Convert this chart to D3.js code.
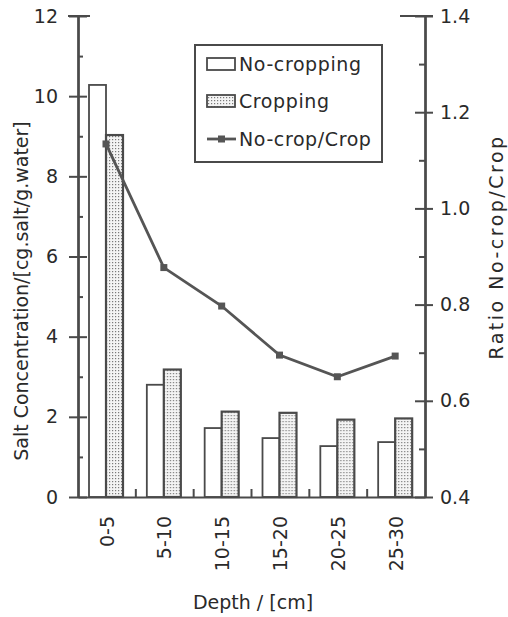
<!DOCTYPE html>
<html>
<head>
<meta charset="utf-8">
<script src="https://cdn.jsdelivr.net/npm/d3@7"></script>
<style>
  body { margin: 0; background: #fff; }
  svg text { font-family: "DejaVu Sans", sans-serif; fill: #2a2a2a; }
</style>
</head>
<body>
<div id="chart-area"></div>
<script>
// depth layers and measured values
var depths = ["0-5", "5-10", "10-15", "15-20", "20-25", "25-30"];
var noCropping = [10.28, 2.8, 1.72, 1.47, 1.27, 1.37];
var cropping = [9.03, 3.18, 2.13, 2.1, 1.93, 1.96];
var ratio = [1.134, 0.877, 0.797, 0.695, 0.65, 0.693];
var seriesNames = ["No-cropping", "Cropping", "No-crop/Crop"];
var leftTicks = [0, 2, 4, 6, 8, 10, 12];
var leftMinor = [1, 3, 5, 7, 9, 11];
var rightTicks = [0.4, 0.6, 0.8, 1.0, 1.2, 1.4];
var rightMinor = [0.5, 0.7, 0.9, 1.1, 1.3];

var width = 508, height = 617;
var ink = "#4a4a4a";
var fontSize = "19px";

var svg = d3.select("#chart-area").append("svg")
    .attr("width", width).attr("height", height);

var defs = svg.append("defs");
var pat = defs.append("pattern").attr("id", "dots")
    .attr("patternUnits", "userSpaceOnUse").attr("width", 3).attr("height", 3);
pat.append("rect").attr("width", 3).attr("height", 3).attr("fill", "#f4f4f4");
pat.append("rect").attr("x", 1).attr("y", 1).attr("width", 1.2).attr("height", 1.2).attr("fill", "#7a7a7a");

var x = d3.scaleBand().domain(depths).range([78, 425]).paddingInner(0).paddingOuter(0);
var xSub = d3.scaleBand().domain(["nocrop", "crop"]).range([11, 45]);
var yL = d3.scaleLinear().domain([0, 12]).range([497, 16]);
var yR = d3.scaleLinear().domain([0.4, 1.4]).range([497, 16]);

// bars
var groups = svg.append("g").selectAll("g").data(depths).enter().append("g")
    .attr("transform", (d) => "translate(" + x(d) + ",0)");

groups.append("rect")
    .attr("x", xSub("nocrop")).attr("width", xSub.bandwidth())
    .attr("y", (d, i) => yL(noCropping[i]))
    .attr("height", (d, i) => yL(0) - yL(noCropping[i]))
    .attr("fill", "#fff").attr("stroke", ink).attr("stroke-width", 1.8);

groups.append("rect")
    .attr("x", xSub("crop")).attr("width", xSub.bandwidth())
    .attr("y", (d, i) => yL(cropping[i]))
    .attr("height", (d, i) => yL(0) - yL(cropping[i]))
    .attr("fill", "url(#dots)").attr("stroke", ink).attr("stroke-width", 2.2);

// ratio line
var lineX = (d) => x(d) + xSub("crop");
var line = d3.line().x((d, i) => lineX(depths[i])).y((d) => yR(d));
svg.append("path").datum(ratio).attr("d", line)
    .attr("fill", "none").attr("stroke", "#555").attr("stroke-width", 2.8);
svg.append("g").selectAll("rect").data(ratio).enter().append("rect")
    .attr("x", (d, i) => lineX(depths[i]) - 3.5).attr("y", (d) => yR(d) - 3.5)
    .attr("width", 7).attr("height", 7).attr("fill", "#555");

// left axis
var leftAxis = svg.append("g").attr("transform", "translate(78,0)");
leftAxis.call(d3.axisLeft(yL).tickValues(leftTicks).tickSize(9).tickPadding(11).tickSizeOuter(0));
leftAxis.append("g").call(d3.axisRight(yL).tickValues(leftTicks).tickSize(9).tickFormat("").tickSizeOuter(0));
leftAxis.append("g").call(d3.axisRight(yL).tickValues(leftMinor).tickSize(5).tickFormat("").tickSizeOuter(0));

// right axis
var rightAxis = svg.append("g").attr("transform", "translate(425,0)");
rightAxis.call(d3.axisRight(yR).tickValues(rightTicks).tickSize(8).tickPadding(7)
    .tickFormat(d3.format(".1f")).tickSizeOuter(0));
rightAxis.append("g").call(d3.axisLeft(yR).tickValues(rightTicks).tickSize(10).tickFormat("").tickSizeOuter(0));
rightAxis.append("g").call(d3.axisLeft(yR).tickValues(rightMinor).tickSize(6).tickFormat("").tickSizeOuter(0));

// bottom axis
var bottomAxis = svg.append("g").attr("transform", "translate(0,497)");
bottomAxis.call(d3.axisBottom(x).tickSize(0).tickPadding(19).tickSizeOuter(0));
bottomAxis.selectAll(".tick text")
    .attr("transform", "rotate(-90)").attr("text-anchor", "end")
    .attr("dy", "0.35em").attr("x", -19).attr("y", 0);
// small ticks at the band edges
bottomAxis.append("g").selectAll("line").data(depths.slice(1)).enter().append("line")
    .attr("x1", (d) => x(d)).attr("x2", (d) => x(d))
    .attr("y1", 0).attr("y2", -8);

svg.selectAll(".domain, .tick line, line").attr("stroke", ink).attr("stroke-width", 2);
svg.selectAll(".tick text").attr("font-size", fontSize).attr("font-family", "DejaVu Sans").attr("fill", "#2a2a2a");

// longer tick at the top of each axis
svg.append("line").attr("x1", 68).attr("x2", 90).attr("y1", yL(12)).attr("y2", yL(12))
    .attr("stroke", ink).attr("stroke-width", 2);
svg.append("line").attr("x1", 400).attr("x2", 433).attr("y1", yR(1.4)).attr("y2", yR(1.4))
    .attr("stroke", ink).attr("stroke-width", 2);

// axis titles
svg.append("text").attr("transform", "translate(28,291) rotate(-90)")
    .attr("text-anchor", "middle").attr("font-size", fontSize)
    .text("Salt Concentration/[cg.salt/g.water]");
svg.append("text").attr("transform", "translate(503,247) rotate(-90)")
    .attr("text-anchor", "middle").attr("font-size", fontSize).attr("letter-spacing", "2.5px")
    .text("Ratio No-crop/Crop");
svg.append("text").attr("x", 253).attr("y", 609)
    .attr("text-anchor", "middle").attr("font-size", fontSize)
    .text("Depth / [cm]");

// legend
var legend = svg.append("g");
legend.append("rect").attr("x", 195).attr("y", 45).attr("width", 187).attr("height", 117)
    .attr("fill", "#fff").attr("stroke", ink).attr("stroke-width", 2);
var rowY = [64, 101, 139];
legend.append("rect").attr("x", 207).attr("y", rowY[0] - 6).attr("width", 28).attr("height", 12)
    .attr("fill", "#fff").attr("stroke", ink).attr("stroke-width", 1.8);
legend.append("rect").attr("x", 207).attr("y", rowY[1] - 6).attr("width", 28).attr("height", 12)
    .attr("fill", "url(#dots)").attr("stroke", ink).attr("stroke-width", 1.8);
legend.append("line").attr("x1", 207).attr("x2", 236).attr("y1", rowY[2]).attr("y2", rowY[2])
    .attr("stroke", "#555").attr("stroke-width", 2.8);
legend.append("rect").attr("x", 218).attr("y", rowY[2] - 3.5).attr("width", 7).attr("height", 7)
    .attr("fill", "#555");
legend.selectAll("text").data(seriesNames).enter().append("text")
    .attr("x", 239).attr("y", (d, i) => rowY[i]).attr("dy", "0.35em")
    .attr("font-size", fontSize).attr("letter-spacing", "0.6px").text((d) => d);
</script>
</body>
</html>
